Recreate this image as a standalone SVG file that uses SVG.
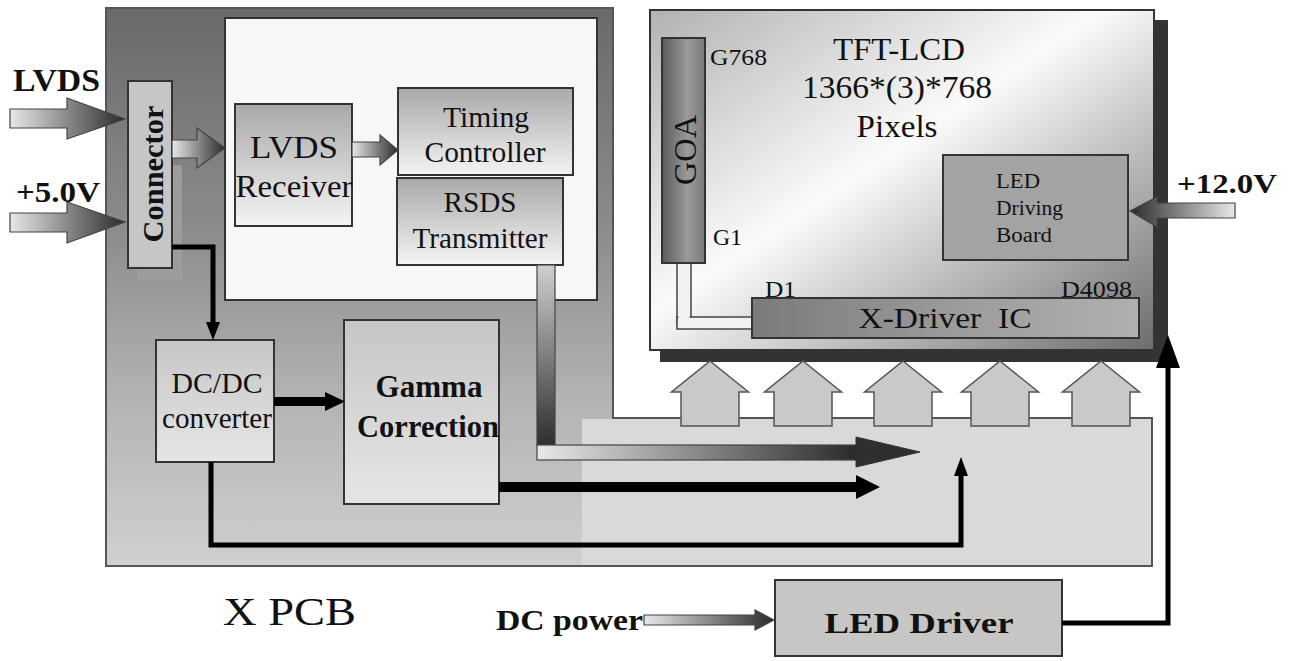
<svg xmlns="http://www.w3.org/2000/svg" width="1289" height="661" viewBox="0 0 1289 661">
<defs>
<linearGradient id="gPcb" x1="0" y1="0" x2="0" y2="1">
<stop offset="0" stop-color="#6a6a6a"/><stop offset="0.4" stop-color="#8c8c8c"/><stop offset="0.7" stop-color="#b3b3b3"/><stop offset="1" stop-color="#d0d0d0"/>
</linearGradient>
<linearGradient id="gBox" x1="0" y1="0" x2="0" y2="1">
<stop offset="0" stop-color="#a9a9a9"/><stop offset="1" stop-color="#f4f4f4"/>
</linearGradient>
<linearGradient id="gBox2" x1="0" y1="0" x2="0" y2="1">
<stop offset="0" stop-color="#c6c6c6"/><stop offset="1" stop-color="#e6e6e6"/>
</linearGradient>
<linearGradient id="gPanel" x1="0" y1="0" x2="1" y2="1">
<stop offset="0" stop-color="#b2b2b2"/><stop offset="0.45" stop-color="#fbfbfb"/><stop offset="1" stop-color="#6c6c6c"/>
</linearGradient>
<linearGradient id="gGoa" x1="0" y1="0" x2="1" y2="0">
<stop offset="0" stop-color="#5a5a5a"/><stop offset="0.6" stop-color="#9a9a9a"/><stop offset="1" stop-color="#7a7a7a"/>
</linearGradient>
<linearGradient id="gXd" x1="0" y1="0" x2="1" y2="0">
<stop offset="0" stop-color="#7a7a7a"/><stop offset="0.5" stop-color="#9a9a9a"/><stop offset="1" stop-color="#b0b0b0"/>
</linearGradient>
<linearGradient id="gArrR" x1="0" y1="0" x2="1" y2="0">
<stop offset="0" stop-color="#e8e8e8"/><stop offset="1" stop-color="#2a2a2a"/>
</linearGradient>
<linearGradient id="gArrL" x1="1" y1="0" x2="0" y2="0">
<stop offset="0" stop-color="#e8e8e8"/><stop offset="1" stop-color="#2a2a2a"/>
</linearGradient>
<linearGradient id="gBusV" x1="0" y1="0" x2="0" y2="1">
<stop offset="0" stop-color="#cfcfcf"/><stop offset="1" stop-color="#2e2e2e"/>
</linearGradient>
</defs>
<style>
.t{font-family:"Liberation Serif","Times New Roman",serif;fill:#111}
.b{font-weight:bold}
.m{text-anchor:middle}
.bx{stroke:#333;stroke-width:2}
.ba{stroke:#444;stroke-width:1.2}
.up{fill:#c9c9c9;stroke:#555;stroke-width:1.5}
.ln{fill:none;stroke:#000;stroke-width:5}
</style>

<g id="xpcb">
<polygon points="106,8 613,8 613,418 1152,418 1152,566 106,566" fill="url(#gPcb)" stroke="#555" stroke-width="2"/>
<rect x="582" y="419" width="569" height="146" fill="#d9d9d9"/>
<rect x="225" y="18" width="372" height="282" fill="#f7f7f7" class="bx"/>
<text class="t" x="223" y="625" font-size="40" textLength="133" lengthAdjust="spacingAndGlyphs">X PCB</text>
</g>

<g id="connector">
<rect x="138" y="165" width="44" height="115" fill="#9c9c9c"/>
<rect x="128" y="81" width="44" height="187" fill="#c6c6c6" class="bx"/>
<text class="t b m" transform="translate(163,174) rotate(-90)" font-size="30" textLength="137" lengthAdjust="spacingAndGlyphs">Connector</text>
</g>

<g id="lvds-receiver">
<rect x="235" y="104" width="117" height="122" fill="url(#gBox)" class="bx"/>
<text class="t m" x="294" y="158" font-size="31" textLength="88" lengthAdjust="spacingAndGlyphs">LVDS</text>
<text class="t m" x="294" y="197" font-size="31" textLength="117" lengthAdjust="spacingAndGlyphs">Receiver</text>
</g>

<g id="timing-controller">
<rect x="398" y="88" width="175" height="87" fill="url(#gBox)" class="bx"/>
<text class="t m" x="486" y="127" font-size="29" textLength="86" lengthAdjust="spacingAndGlyphs">Timing</text>
<text class="t m" x="485" y="162" font-size="29" textLength="121" lengthAdjust="spacingAndGlyphs">Controller</text>
</g>

<g id="rsds-transmitter">
<rect x="397" y="178" width="166" height="87" fill="url(#gBox)" class="bx"/>
<text class="t m" x="480" y="212" font-size="29" textLength="73" lengthAdjust="spacingAndGlyphs">RSDS</text>
<text class="t m" x="480" y="248" font-size="29" textLength="135" lengthAdjust="spacingAndGlyphs">Transmitter</text>
</g>

<g id="dcdc">
<rect x="156" y="340" width="118" height="122" fill="url(#gBox2)" class="bx"/>
<text class="t m" x="217" y="393" font-size="30" textLength="91" lengthAdjust="spacingAndGlyphs">DC/DC</text>
<text class="t m" x="217" y="428" font-size="29" textLength="110" lengthAdjust="spacingAndGlyphs">converter</text>
</g>

<g id="gamma">
<rect x="344" y="320" width="155" height="184" fill="url(#gBox2)" class="bx"/>
<text class="t b m" x="429" y="397" font-size="31" textLength="107" lengthAdjust="spacingAndGlyphs">Gamma</text>
<text class="t b m" x="428" y="437" font-size="31" textLength="142" lengthAdjust="spacingAndGlyphs">Correction</text>
</g>

<g id="tft-lcd">
<rect x="660" y="20" width="508" height="342" fill="#333"/>
<rect x="650" y="10" width="504" height="340" fill="url(#gPanel)" class="bx"/>
<text class="t m" x="899" y="60" font-size="31" textLength="132" lengthAdjust="spacingAndGlyphs">TFT-LCD</text>
<text class="t m" x="897" y="98" font-size="31" textLength="190" lengthAdjust="spacingAndGlyphs">1366*(3)*768</text>
<text class="t m" x="897" y="137" font-size="31" textLength="81" lengthAdjust="spacingAndGlyphs">Pixels</text>
<text class="t" x="710" y="65" font-size="23" textLength="57" lengthAdjust="spacingAndGlyphs">G768</text>
<text class="t" x="713" y="245" font-size="23" textLength="29" lengthAdjust="spacingAndGlyphs">G1</text>
<text class="t" x="765" y="297" font-size="23" textLength="31" lengthAdjust="spacingAndGlyphs">D1</text>
<text class="t" x="1061" y="297" font-size="23" textLength="71" lengthAdjust="spacingAndGlyphs">D4098</text>
</g>

<g id="goa">
<rect x="677" y="262" width="14" height="62" fill="#f2f2f2" stroke="#444" stroke-width="1.5"/>
<rect x="677" y="317" width="76" height="12" fill="#f2f2f2" stroke="#444" stroke-width="1.5"/>
<rect x="678.5" y="300" width="11" height="20" fill="#f2f2f2"/>
<rect x="662" y="38" width="43" height="225" fill="url(#gGoa)" class="bx"/>
<text class="t m" transform="translate(696,150) rotate(-90)" font-size="31" textLength="70" lengthAdjust="spacingAndGlyphs">GOA</text>
</g>

<g id="x-driver-ic">
<rect x="752" y="298" width="387" height="40" fill="url(#gXd)" class="bx"/>
<text class="t m" x="945" y="328" font-size="30" xml:space="preserve" textLength="173" lengthAdjust="spacingAndGlyphs">X-Driver  IC</text>
</g>

<g id="led-driving-board">
<rect x="943" y="155" width="185" height="105" fill="#a3a3a3" class="bx"/>
<text class="t" x="996" y="188" font-size="20" textLength="44" lengthAdjust="spacingAndGlyphs">LED</text>
<text class="t" x="996" y="215" font-size="20" textLength="67" lengthAdjust="spacingAndGlyphs">Driving</text>
<text class="t" x="996" y="242" font-size="20" textLength="56" lengthAdjust="spacingAndGlyphs">Board</text>
</g>

<g id="led-driver">
<rect x="775" y="580" width="287" height="76" fill="#c7c6c4" class="bx"/>
<text class="t b m" x="919" y="633" font-size="30" textLength="189" lengthAdjust="spacingAndGlyphs">LED Driver</text>
</g>

<g id="labels">
<text class="t b" x="13" y="91" font-size="31" textLength="87" lengthAdjust="spacingAndGlyphs">LVDS</text>
<text class="t b" x="16" y="202" font-size="29" textLength="84" lengthAdjust="spacingAndGlyphs">+5.0V</text>
<text class="t b" x="1177" y="193" font-size="28" textLength="100" lengthAdjust="spacingAndGlyphs">+12.0V</text>
<text class="t b" x="496" y="630" font-size="30" textLength="147" lengthAdjust="spacingAndGlyphs">DC power</text>
</g>

<g id="connectors">
<polygon class="ba" fill="url(#gArrR)" points="10,109 67,109 67,98 125,119 67,139 67,128 10,128"/>
<polygon class="ba" fill="url(#gArrR)" points="10,213 67,213 67,202 125,222 67,243 67,232 10,232"/>
<polygon class="ba" fill="url(#gArrR)" points="172,140 197,140 197,128 225,148 197,168 197,158 172,158"/>
<polygon class="ba" fill="url(#gArrR)" points="352,142 380,142 380,135 398,150 380,165 380,157 352,157"/>
<polygon class="ba" fill="url(#gArrL)" points="1235,203 1157,203 1157,197 1130,211 1157,227 1157,218 1235,218"/>
<polygon class="ba" fill="url(#gArrR)" points="644,615 755,615 755,610 774,620 755,630 755,625 644,625"/>
<rect x="537" y="265" width="18" height="180" fill="url(#gBusV)" stroke="#444" stroke-width="1.2"/>
<rect x="537" y="445" width="320" height="15" fill="url(#gArrR)" stroke="#444" stroke-width="1.2"/>
<polygon fill="#2f2f2f" stroke="#333" stroke-width="1" points="856,437 920,452 856,467"/>
<polyline class="ln" stroke-width="4" points="172,247 213,247 213,324"/>
<polygon points="206,322 220,322 213,340"/>
<rect x="274" y="397" width="53" height="9"/>
<polygon points="325,392 345,401.5 325,411"/>
<rect x="499" y="482" width="358" height="10"/>
<polygon points="856,475 880,487 856,499"/>
<polyline class="ln" points="211,462 211,545 961,545 961,474"/>
<polygon points="954,476 968,476 961,457"/>
<polyline class="ln" stroke-width="4" points="1062,623 1168,623 1168,366"/>
<polygon points="1156,368 1180,368 1168,335"/>
<polygon class="up" points="710,361 748.5,392 739,392 739,426 681,426 681,392 671.5,392"/>
<polygon class="up" points="803,361 841.5,392 832,392 832,426 774,426 774,392 764.5,392"/>
<polygon class="up" points="903,361 941.5,392 932,392 932,426 874,426 874,392 864.5,392"/>
<polygon class="up" points="1000,361 1038.5,392 1029,392 1029,426 971,426 971,392 961.5,392"/>
<polygon class="up" points="1101,361 1139.5,392 1130,392 1130,426 1072,426 1072,392 1062.5,392"/>
</g>
</svg>
